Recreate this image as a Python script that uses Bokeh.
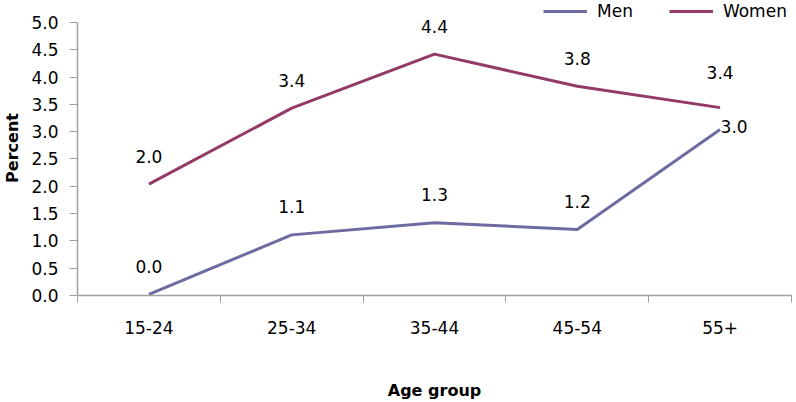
from bokeh.plotting import figure
from bokeh.models import ColumnDataSource, FixedTicker, Range1d, Legend, LegendItem
from bokeh.core.properties import value
from bokeh.embed import file_html
from bokeh.resources import INLINE

categories = ["15-24", "25-34", "35-44", "45-54", "55+"]
men = [0.02, 1.11, 1.33, 1.21, 3.04]
women = [2.04, 3.43, 4.42, 3.83, 3.44]
men_labels = ["0.0", "1.1", "1.3", "1.2", "3.0"]
women_labels = ["2.0", "3.4", "4.4", "3.8", "3.4"]
y_ticks = [0, 0.5, 1, 1.5, 2, 2.5, 3, 3.5, 4, 4.5, 5]

xpos = [i + 0.5 for i in range(len(categories))]
FONT = "DejaVu Sans"
MEN_C = "#6C6CA3"
WOMEN_C = "#933B66"

# frame spans the full top so labels / legend above 5.0 are not clipped
p = figure(width=796, height=402, output_backend="svg", toolbar_location=None,
           x_range=Range1d(0, len(categories)), y_range=Range1d(0, 5 * 296 / 274),
           min_border_left=77, min_border_right=5, min_border_top=0, min_border_bottom=106)
p.outline_line_color = None
p.grid.visible = False
p.background_fill_color = "white"

men_src = ColumnDataSource(dict(x=xpos, y=men, lab=men_labels,
                                xo=[0, 0, 0, 0, 14], yo=[-28, -28, -28, -28, -3]))
women_src = ColumnDataSource(dict(x=xpos, y=women, lab=women_labels,
                                  xo=[0, 0, 0, 0, 0], yo=[-28, -28, -28, -28, -35]))

r_men = p.line("x", "y", source=men_src, line_color=MEN_C, line_width=3)
r_women = p.line("x", "y", source=women_src, line_color=WOMEN_C, line_width=3)

for src in (men_src, women_src):
    p.text("x", "y", text="lab", source=src, x_offset="xo", y_offset="yo",
           text_align="center", text_baseline="middle",
           text_font=value(FONT), text_font_size="17px", text_color="black")

# x axis
xa = p.xaxis[0]
xa.ticker = FixedTicker(ticks=xpos, minor_ticks=list(range(len(categories) + 1)))
xa.major_label_overrides = {x: c for x, c in zip(xpos, categories)}
xa.major_tick_line_color = None
xa.minor_tick_line_color = "#A0A0A0"
xa.minor_tick_out = 7
xa.minor_tick_in = 0
xa.axis_line_color = "#A0A0A0"
xa.axis_line_width = 1.5
xa.major_label_standoff = 18
xa.major_label_text_font = FONT
xa.major_label_text_font_size = "17px"
xa.major_label_text_color = "black"
xa.axis_label = "Age group"
xa.axis_label_text_font = FONT
xa.axis_label_text_font_style = "bold"
xa.axis_label_text_font_size = "16px"
xa.axis_label_text_color = "black"
xa.axis_label_standoff = 44

ya = p.yaxis[0]
ya.ticker = FixedTicker(ticks=y_ticks)
ya.bounds = (y_ticks[0], y_ticks[-1])
ya.major_label_overrides = {v: f"{v:.1f}" for v in y_ticks}
ya.minor_tick_line_color = None
ya.major_tick_out = 8
ya.major_tick_in = 0
ya.major_tick_line_color = "#A0A0A0"
ya.axis_line_color = "#A0A0A0"
ya.axis_line_width = 1.5
ya.major_label_standoff = 11
ya.major_label_text_font = FONT
ya.major_label_text_font_size = "17px"
ya.major_label_text_color = "black"
ya.axis_label = "Percent"
ya.axis_label_text_font = FONT
ya.axis_label_text_font_style = "bold"
ya.axis_label_text_font_size = "16px"
ya.axis_label_text_color = "black"
ya.axis_label_standoff = 6

legend = Legend(items=[LegendItem(label="Men", renderers=[r_men]),
                       LegendItem(label="Women", renderers=[r_women])],
                orientation="horizontal", location=(466, 274),
                glyph_width=44, glyph_height=14, label_standoff=10, spacing=36,
                padding=0, margin=0, border_line_color=None, background_fill_alpha=0,
                label_text_font=FONT, label_text_font_size="17px",
                label_text_color="black")
p.add_layout(legend, "center")

open("out.html", "w").write(file_html(p, INLINE))
